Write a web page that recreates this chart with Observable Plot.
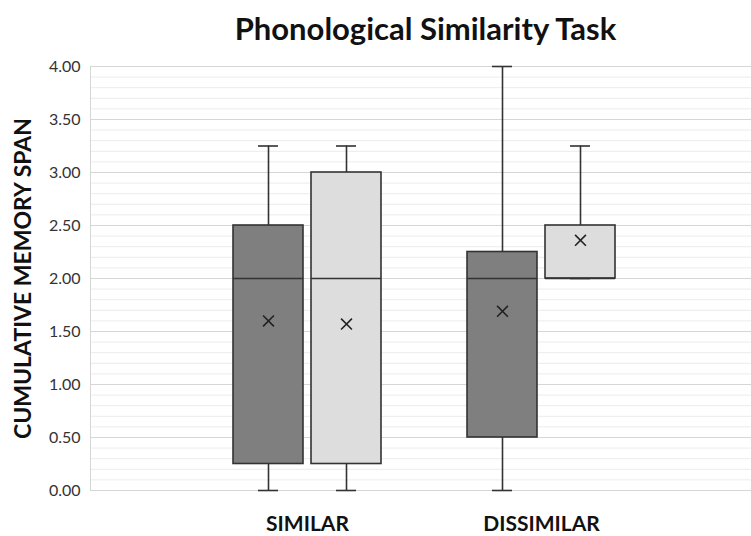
<!DOCTYPE html>
<html>
<head>
<meta charset="utf-8">
<script src="https://cdn.jsdelivr.net/npm/d3@7"></script>
<script src="https://cdn.jsdelivr.net/npm/@observablehq/plot@0.6"></script>
<style>
  html, body { margin: 0; padding: 0; background: #fff; }
  #title {
    width: 751px; height: 56px; box-sizing: border-box; padding-left: 100px;
    text-align: center; font-family: Lato, "Open Sans", sans-serif; font-weight: bold;
    font-size: 31px; line-height: 56px; color: #111; white-space: nowrap;
  }
  g[aria-label="y-axis label"] text { font-weight: bold; font-size: 23px; fill: #111; }
  g[aria-label="x-axis tick label"] text { font-weight: bold; font-size: 21px; fill: #111; }
  g[aria-label="y-axis tick label"] text { font-size: 16px; fill: #333; }
</style>
</head>
<body>
<div id="title">Phonological Similarity Task</div>
<div id="chart"></div>
<script>
// ---- data ----
const categories = ["SIMILAR", "SIMILAR", "DISSIMILAR", "DISSIMILAR"];
const groups     = ["Group 1", "Group 2", "Group 1", "Group 2"];
const mins    = [0.00, 0.00, 0.00, 2.00];
const q1s     = [0.25, 0.25, 0.50, 2.00];
const medians = [2.00, 2.00, 2.00, 2.00];
const q3s     = [2.50, 3.00, 2.25, 2.50];
const maxs    = [3.25, 3.25, 4.00, 3.25];
const means   = [1.60, 1.57, 1.69, 2.36];

const categoryOrder = ["SIMILAR", "DISSIMILAR"];
const groupOrder = ["Group 1", "Group 2"];
const yTickValues = [0, 0.5, 1, 1.5, 2, 2.5, 3, 3.5, 4];
const yMinorValues = d3.range(0, 41).map(i => i / 10);

const key = (c, g) => `${c} | ${g}`;
const SPACER = " ";
// band domain: the two boxes of each category, with an empty band between categories
const xDomain = [key("SIMILAR", "Group 1"), key("SIMILAR", "Group 2"), SPACER,
                 key("DISSIMILAR", "Group 1"), key("DISSIMILAR", "Group 2")];

const rows = categories.map((c, i) => ({
  key: key(c, groups[i]), category: c, group: groups[i], min: mins[i], q1: q1s[i],
  median: medians[i], q3: q3s[i], max: maxs[i], mean: means[i]
}));

const fillColors = ["#7f7f7f", "#dddddd"];
const strokeColor = "#333333";
const bandStep = 78; // px per band, used to centre the category label between its two boxes

const chart = Plot.plot({
  width: 751,
  height: 480,
  marginTop: 10,
  marginBottom: 46,
  marginLeft: 90,
  marginRight: 0,
  style: {fontFamily: "Lato, 'Open Sans', sans-serif", background: "#fff"},
  x: {domain: xDomain, paddingInner: 0.1026, paddingOuter: 1.788, align: 0.5125, label: null},
  y: {domain: [0, 4]},
  color: {domain: groupOrder, range: fillColors},
  marks: [
    Plot.ruleY(yMinorValues, {y: d => d, stroke: "#ececec", strokeWidth: 1}),
    Plot.ruleY(yTickValues, {y: d => d, stroke: "#d6d6d6", strokeWidth: 1.2}),
    Plot.frame({anchor: "left", stroke: "#d6d6d6"}),
    Plot.axisY({
      ticks: yTickValues, tickFormat: d3.format(".2f"), tickSize: 0, tickPadding: 10,
      label: "CUMULATIVE MEMORY SPAN", labelAnchor: "center", labelArrow: "none",
      labelOffset: 76, fontSize: 16
    }),
    Plot.axisX({
      ticks: categoryOrder.map(c => key(c, "Group 2")),
      tickFormat: k => k.split(" | ")[0],
      tickSize: 0, tickPadding: 26, label: null, fontSize: 21, dx: -bandStep / 2
    }),
    // whiskers
    Plot.ruleX(rows, {x: "key", y1: "min", y2: "q1", stroke: strokeColor, strokeWidth: 1.6}),
    Plot.ruleX(rows, {x: "key", y1: "q3", y2: "max", stroke: strokeColor, strokeWidth: 1.6}),
    Plot.tickY(rows, {x: "key", y: "min", stroke: strokeColor, strokeWidth: 1.6, inset: 25}),
    Plot.tickY(rows, {x: "key", y: "max", stroke: strokeColor, strokeWidth: 1.6, inset: 25}),
    // boxes
    Plot.barY(rows, {x: "key", y1: "q1", y2: "q3", fill: "group", stroke: strokeColor, strokeWidth: 1.6}),
    Plot.tickY(rows, {x: "key", y: "median", stroke: strokeColor, strokeWidth: 1.6}),
    // means
    Plot.dot(rows, {x: "key", y: "mean", symbol: "times", r: 5, stroke: "#222", strokeWidth: 1.6})
  ]
});
document.getElementById("chart").appendChild(chart);
</script>
</body>
</html>
